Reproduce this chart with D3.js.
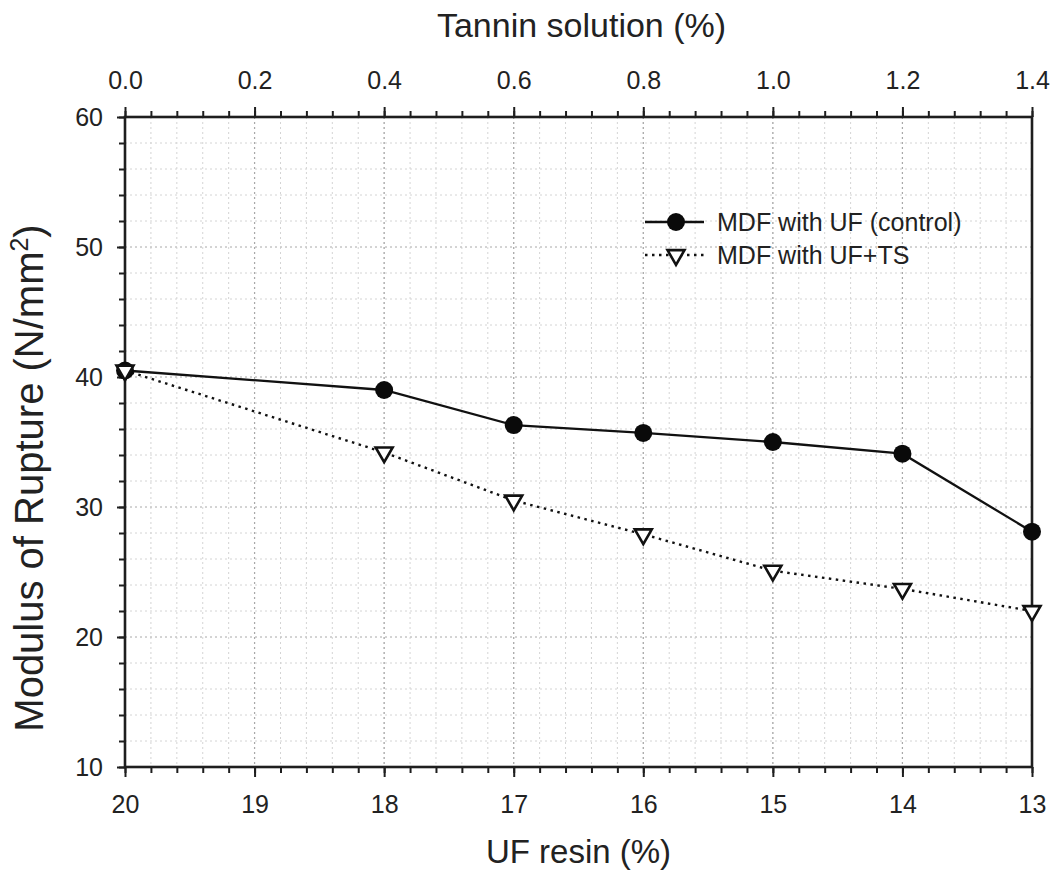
<!DOCTYPE html>
<html>
<head>
<meta charset="utf-8">
<script src="https://cdn.jsdelivr.net/npm/d3@7/dist/d3.min.js"></script>
<style>
  html, body { margin: 0; padding: 0; background: #fff; }
  svg { display: block; font-family: "Liberation Sans", Arial, sans-serif; }
</style>
</head>
<body>
<svg id="chart" width="1054" height="874"></svg>
<script>
// ---- data ----
const tannin = [0.0, 0.4, 0.6, 0.8, 1.0, 1.2, 1.4];          // top axis (%)
const ufResin = [20, 18, 17, 16, 15, 14, 13];                 // bottom axis (%)
const controlMOR = [40.5, 39.0, 36.3, 35.7, 35.0, 34.1, 28.1]; // MDF with UF (control)
const tsMOR = [40.5, 34.2, 30.5, 27.9, 25.1, 23.7, 22.0];      // MDF with UF+TS
const topTicks = [0.0, 0.2, 0.4, 0.6, 0.8, 1.0, 1.2, 1.4];
const bottomTicks = [20, 19, 18, 17, 16, 15, 14, 13];
const yTicks = [10, 20, 30, 40, 50, 60];
const seriesNames = ["MDF with UF (control)", "MDF with UF+TS"];

// ---- layout ----
const L = 125, R = 1032, T = 117, B = 767;
const svg = d3.select("#chart");
const ink = "#1e1e1e";

const xTop = d3.scaleLinear().domain([0, 1.4]).range([L, R]);
const xBot = d3.scaleLinear().domain([20, 13]).range([L, R]);
const y = d3.scaleLinear().domain([10, 60]).range([B, T]);

// ---- grid ----
const grid = svg.append("g");
const minorX = d3.range(0, 1.4001, 0.04);
const minorY = d3.range(10, 60.001, 2);
grid.selectAll("line.mx").data(minorX).join("line")
  .attr("x1", d => xTop(d)).attr("x2", d => xTop(d)).attr("y1", T).attr("y2", B)
  .attr("stroke", "#d4d4d4").attr("stroke-width", 1).attr("stroke-dasharray", "2,3");
grid.selectAll("line.my").data(minorY).join("line")
  .attr("y1", d => y(d)).attr("y2", d => y(d)).attr("x1", L).attr("x2", R)
  .attr("stroke", "#d4d4d4").attr("stroke-width", 1).attr("stroke-dasharray", "2,3");
grid.selectAll("line.Mx").data(topTicks).join("line")
  .attr("x1", d => xTop(d)).attr("x2", d => xTop(d)).attr("y1", T).attr("y2", B)
  .attr("stroke", "#a8a8a8").attr("stroke-width", 1.2).attr("stroke-dasharray", "2,3");
grid.selectAll("line.My").data(yTicks).join("line")
  .attr("y1", d => y(d)).attr("y2", d => y(d)).attr("x1", L).attr("x2", R)
  .attr("stroke", "#bdbdbd").attr("stroke-width", 1.2).attr("stroke-dasharray", "2,3");

// ---- axes ----
function styleAxis(g) {
  g.select(".domain").remove();
  g.selectAll(".tick line").attr("stroke", ink).attr("stroke-width", 2);
  g.selectAll(".tick text").attr("fill", "#222").style("font-size", "25px")
    .style("font-family", '"Liberation Sans", Arial, sans-serif');
}
// minor ticks
svg.append("g").attr("transform", `translate(0,${B})`)
  .call(d3.axisBottom(xTop).tickValues(minorX).tickSize(6).tickFormat(""))
  .call(styleAxis);
svg.append("g").attr("transform", `translate(0,${T})`)
  .call(d3.axisTop(xTop).tickValues(minorX).tickSize(6).tickFormat(""))
  .call(styleAxis);
svg.append("g").attr("transform", `translate(${L},0)`)
  .call(d3.axisLeft(y).tickValues(minorY).tickSize(6).tickFormat(""))
  .call(styleAxis);
// major ticks
svg.append("g").attr("transform", `translate(0,${B})`)
  .call(d3.axisBottom(xBot).tickValues(bottomTicks).tickSize(10).tickPadding(18).tickFormat(d3.format("d")))
  .call(styleAxis);
svg.append("g").attr("transform", `translate(0,${T})`)
  .call(d3.axisTop(xTop).tickValues(topTicks).tickSize(10).tickPadding(18).tickFormat(d3.format(".1f")))
  .call(styleAxis);
svg.append("g").attr("transform", `translate(${L},0)`)
  .call(d3.axisLeft(y).tickValues(yTicks).tickSize(8).tickPadding(14).tickFormat(d3.format("d")))
  .call(styleAxis);
// frame
svg.append("rect").attr("x", L).attr("y", T).attr("width", R - L).attr("height", B - T)
  .attr("fill", "none").attr("stroke", ink).attr("stroke-width", 2.6);

// ---- titles ----
svg.append("text").attr("x", (L + R) / 2 + 3).attr("y", 37).attr("text-anchor", "middle")
  .style("font-size", "34px").attr("fill", "#222").text("Tannin solution (%)");
svg.append("text").attr("x", (L + R) / 2).attr("y", 863).attr("text-anchor", "middle")
  .style("font-size", "33px").attr("fill", "#222").text("UF resin (%)");
const yt = svg.append("text").attr("transform", `translate(43,478) rotate(-90)`)
  .attr("text-anchor", "middle").style("font-size", "40px").attr("fill", "#222");
yt.append("tspan").text("Modulus of Rupture (N/mm");
yt.append("tspan").attr("dy", -15).style("font-size", "25px").text("2");
yt.append("tspan").attr("dy", 15).text(")");

// ---- series ----
const idx = d3.range(ufResin.length);
const line = vals => d3.line().x(i => xBot(ufResin[i])).y(i => y(vals[i]))(idx);
svg.append("path").attr("d", line(tsMOR)).attr("fill", "none")
  .attr("stroke", "#111").attr("stroke-width", 2.4).attr("stroke-dasharray", "2.5,4.5");
svg.append("path").attr("d", line(controlMOR)).attr("fill", "none")
  .attr("stroke", "#111").attr("stroke-width", 2.3);

const tri = d3.symbol().type(d3.symbolTriangle).size(125);
function triDown(g) {
  g.attr("d", tri()).attr("fill", "#fff").attr("stroke", "#111").attr("stroke-width", 2.6);
}
svg.selectAll("circle.ctrl").data(idx).join("circle")
  .attr("cx", i => xBot(ufResin[i])).attr("cy", i => y(controlMOR[i])).attr("r", 9)
  .attr("fill", "#0a0a0a");
svg.selectAll("path.ts").data(idx).join("path")
  .attr("transform", i => `translate(${xBot(ufResin[i])},${y(tsMOR[i])}) rotate(180)`)
  .call(triDown);

// ---- legend ----
const lg = svg.append("g");
const ly = [222, 255];
lg.append("line").attr("x1", 645).attr("x2", 704).attr("y1", ly[0]).attr("y2", ly[0])
  .attr("stroke", "#111").attr("stroke-width", 2.3);
lg.append("circle").attr("cx", 676).attr("cy", ly[0]).attr("r", 9).attr("fill", "#0a0a0a");
lg.append("line").attr("x1", 645).attr("x2", 704).attr("y1", ly[1]).attr("y2", ly[1])
  .attr("stroke", "#111").attr("stroke-width", 2.4).attr("stroke-dasharray", "2.5,4.5");
lg.append("path").attr("transform", `translate(676,${ly[1]}) rotate(180)`).call(triDown);
lg.selectAll("text").data(seriesNames).join("text")
  .attr("x", 717).attr("y", (d, i) => ly[i] + 9)
  .style("font-size", "25px").attr("fill", "#222").text(d => d);
</script>
</body>
</html>
